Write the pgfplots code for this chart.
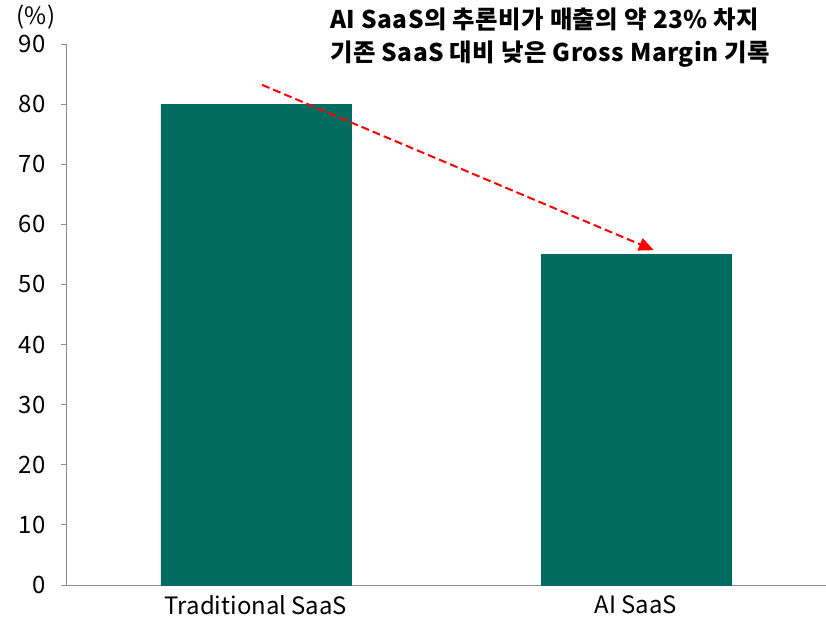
\documentclass[border=0pt]{standalone}
\usepackage{fontspec}
\setmainfont{Noto Sans CJK KR}
\usepackage{pgfplots}
\pgfplotsset{compat=1.18}
\usetikzlibrary{arrows.meta}
\definecolor{barteal}{RGB}{0,107,96}
\definecolor{axgray}{RGB}{140,140,140}
\begin{document}
\begin{tikzpicture}
\begin{axis}[
    name=ax,
    scale only axis,
    width=760bp, height=541bp,
    xmin=-0.5, xmax=1.5,
    ymin=0, ymax=90,
    ytick={0,10,...,90},
    xtick={0,1},
    xticklabels={Traditional SaaS, AI SaaS},
    extra x ticks={-0.5,0.5,1.5},
    extra x tick labels={},
    extra x tick style={major tick length=6bp, tick style={axgray, line width=0.8bp}},
    axis x line*=bottom,
    axis y line*=left,
    axis line style={axgray, line width=0.8bp},
    tick align=outside,
    major tick length=5bp,
    x tick style={draw=none},
    y tick style={axgray, line width=0.8bp},
    tick label style={font=\fontsize{24}{24}\selectfont},
    /pgf/number format/assume math mode=true,
    yticklabel style={xshift=-12bp},
    xticklabel style={yshift=-2bp},
    clip=false,
]
\addplot[ybar, bar width=190bp, fill=barteal, draw=barteal] coordinates {
    (0,80)
    (1,55)
};
\draw[red, line width=2bp, dash pattern=on 8bp off 4bp, -{Triangle[length=15bp,width=13bp]}]
    (axis cs:0.016,83.2) -- (axis cs:1.047,55.7);
\end{axis}
\node[font=\fontsize{24}{24}\selectfont] at ([shift={(-30bp,27bp)}]ax.north west) {(\%)};
\node[anchor=north west, align=left, inner sep=0pt,
      font=\fontsize{24.5}{33}\selectfont\bfseries\addfontfeatures{LetterSpace=2}]
    at ([shift={(264bp,36bp)}]ax.north west)
    {AI SaaS의 추론비가 매출의 약 23\% 차지\\기존 SaaS 대비 낮은 Gross Margin 기록};
\pgfresetboundingbox
\path (ax.south west) ++(-66bp,-39bp) rectangle ([shift={(0bp,44bp)}]ax.north east);
\end{tikzpicture}
\end{document}
